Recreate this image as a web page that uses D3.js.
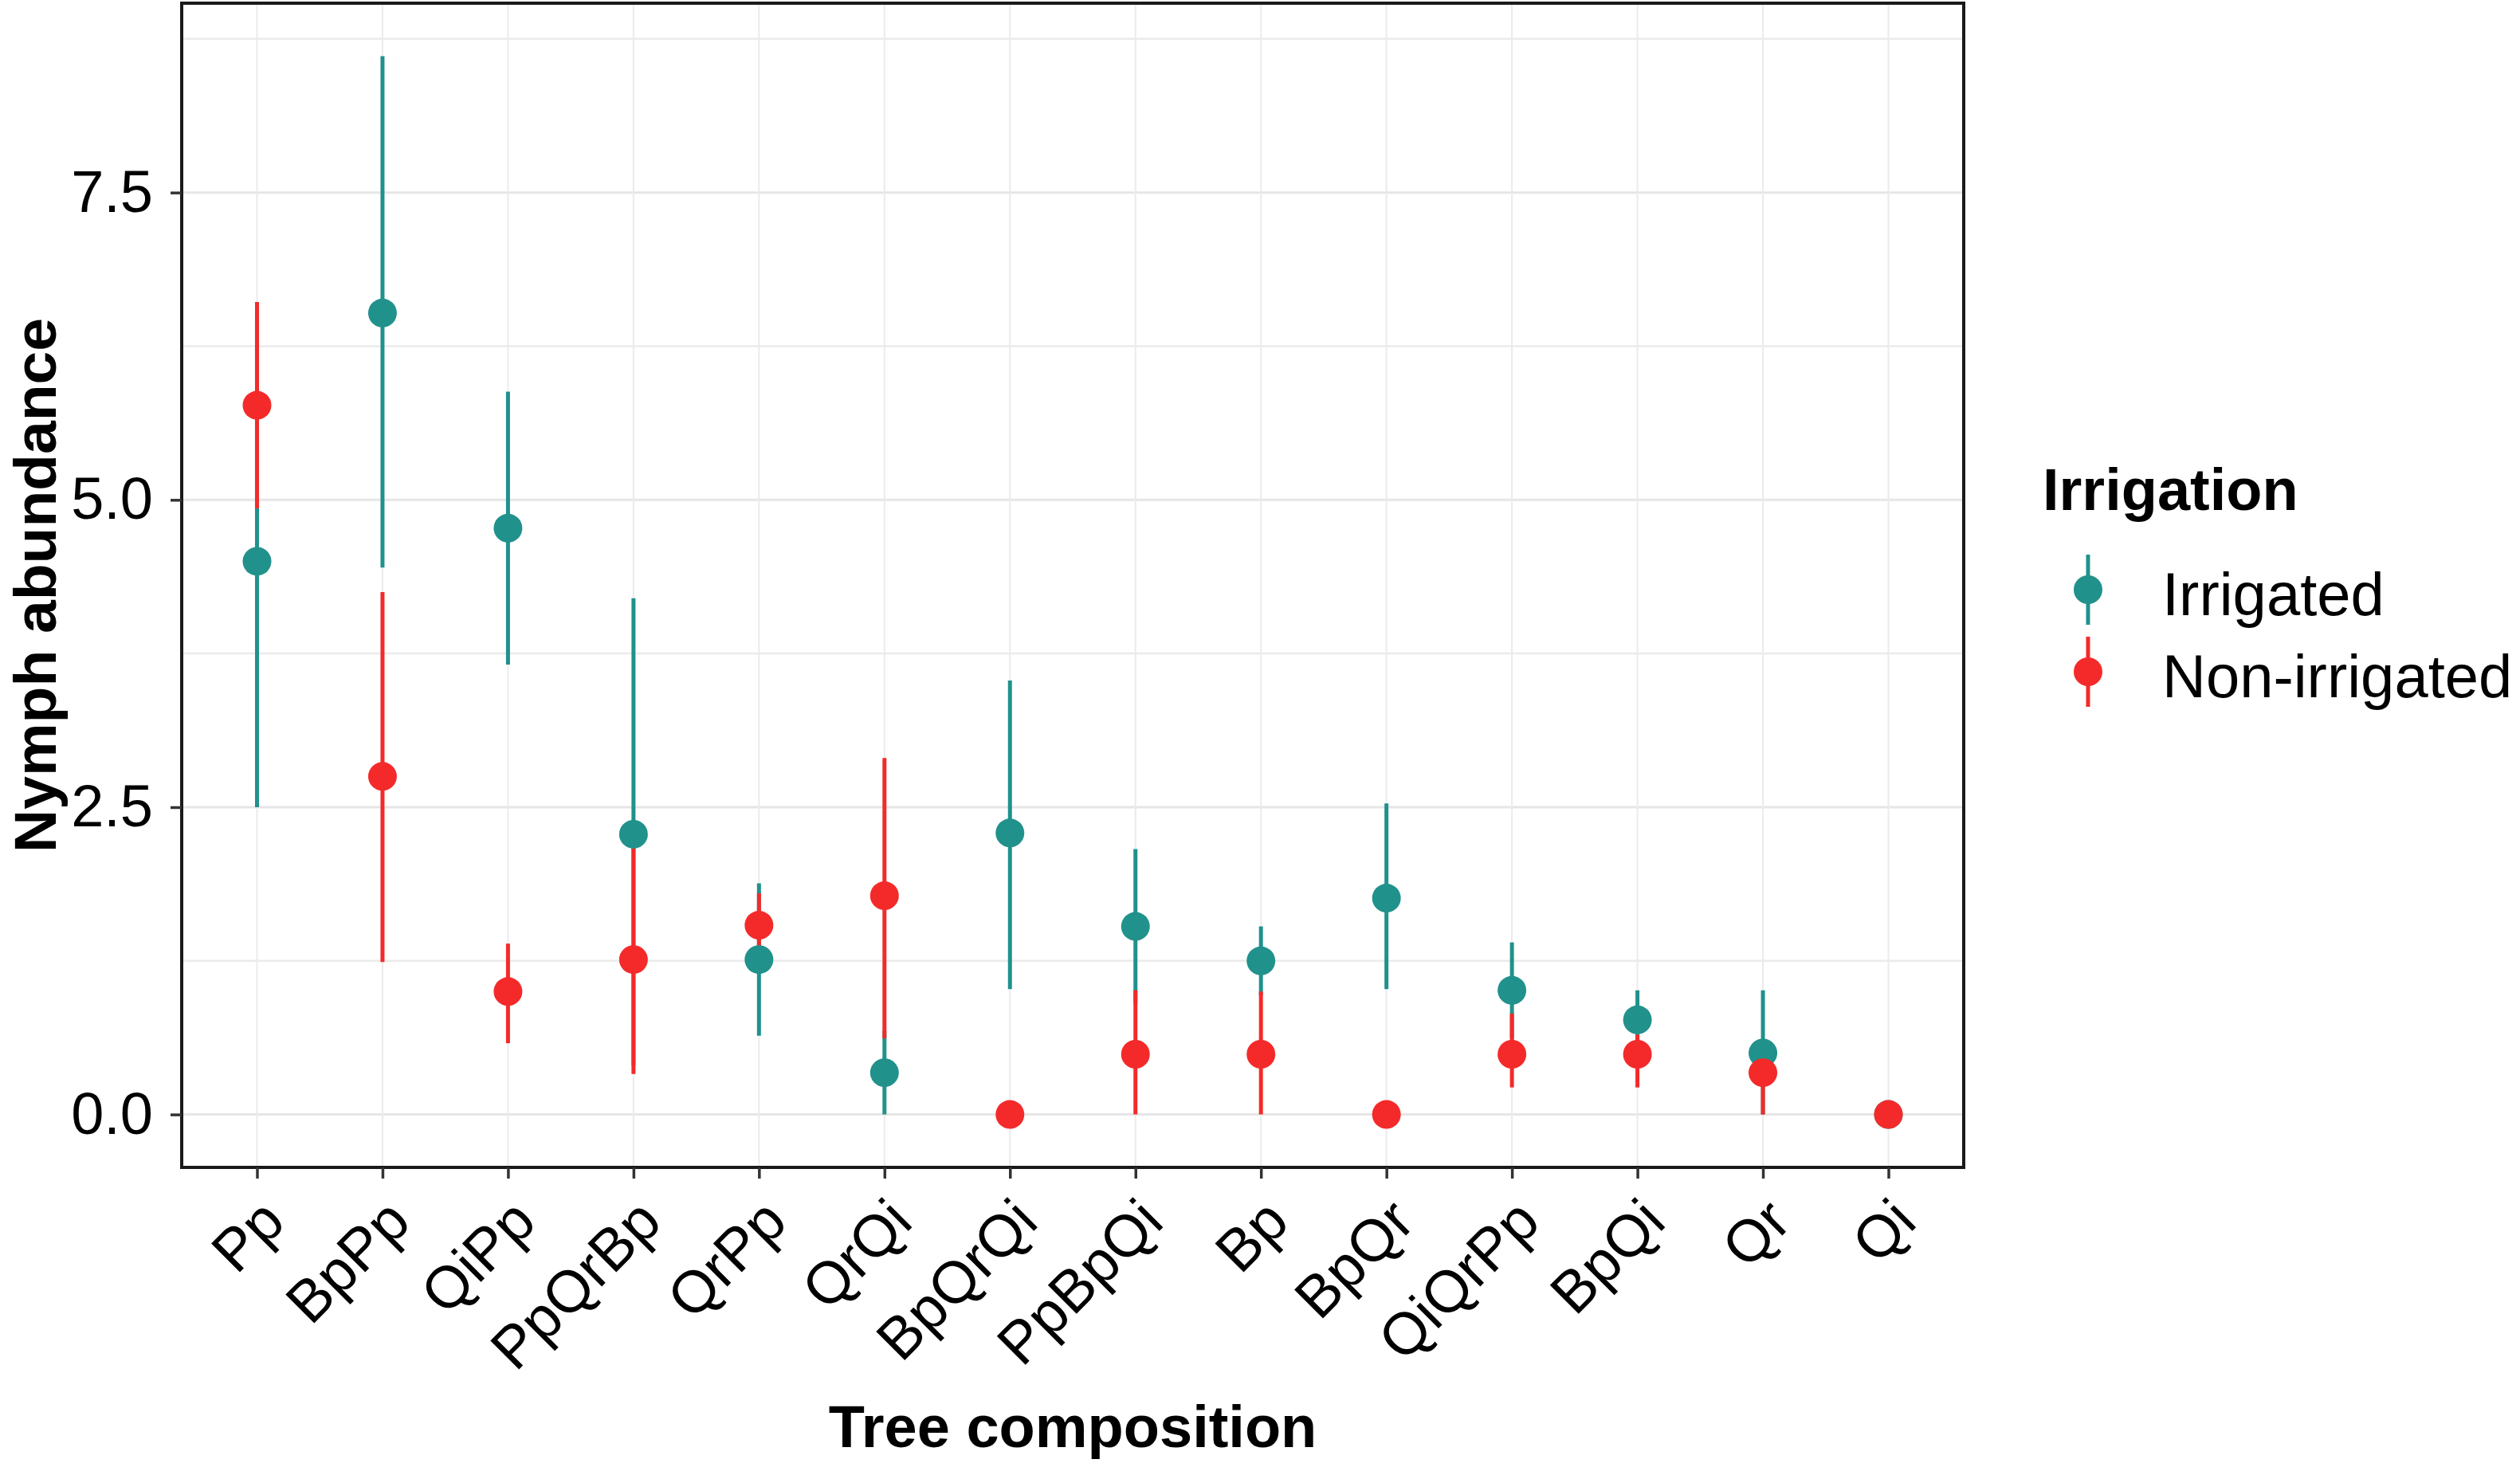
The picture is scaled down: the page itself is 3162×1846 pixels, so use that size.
<!DOCTYPE html>
<html>
<head>
<meta charset="utf-8">
<script src="https://cdn.jsdelivr.net/npm/d3@7"></script>
<style>
  body { margin: 0; background: #ffffff; }
  text { font-family: "Liberation Sans", Arial, sans-serif; }
</style>
</head>
<body>
<div id="container"></div>
<script>
let w = 3162;
let h = 1846;

// tree compositions, in the order of the x axis
let categories = ["Pp", "BpPp", "QiPp", "PpQrBp", "QrPp", "QrQi", "BpQrQi",
                  "PpBpQi", "Bp", "BpQr", "QiQrPp", "BpQi", "Qr", "Qi"];

// irrigated plots: mean and interval
let irrigatedMean = [4.50, 6.52, 4.77, 2.28, 1.26, 0.34, 2.29, 1.53, 1.25, 1.76, 1.01, 0.77, 0.50, 0.00];
let irrigatedLow  = [2.50, 4.45, 3.66, 0.40, 0.64, 0.00, 1.02, 0.90, 0.97, 1.02, 0.62, 0.53, 0.00, 0.00];
let irrigatedHigh = [6.50, 8.61, 5.88, 4.20, 1.88, 0.68, 3.53, 2.16, 1.53, 2.53, 1.40, 1.01, 1.01, 0.00];

// non-irrigated plots
let nonIrrigatedMean = [5.77, 2.75, 1.00, 1.26, 1.54, 1.78, 0.00, 0.49, 0.49, 0.00, 0.49, 0.49, 0.34, 0.00];
let nonIrrigatedLow  = [4.93, 1.24, 0.58, 0.33, 1.32, 0.62, 0.00, 0.00, 0.00, 0.00, 0.22, 0.22, 0.00, 0.00];
let nonIrrigatedHigh = [6.61, 4.25, 1.39, 2.17, 1.80, 2.90, 0.00, 1.01, 1.00, 0.00, 0.82, 0.65, 0.45, 0.00];

let seriesNames = ["Irrigated", "Non-irrigated"];
let seriesColors = ["#21918c", "#f42a2a"];

let yTicks = [0, 2.5, 5, 7.5];
let yMinorTicks = [1.25, 3.75, 6.25, 8.75];

// one row per point
function makeRows(name, mean, low, high){
  return categories.map(function(c, i){
    return {cat: c, series: name, y: mean[i], lo: low[i], hi: high[i]};
  });
}
let rows = makeRows(seriesNames[0], irrigatedMean, irrigatedLow, irrigatedHigh)
  .concat(makeRows(seriesNames[1], nonIrrigatedMean, nonIrrigatedLow, nonIrrigatedHigh));

// panel box
let panel = {left: 228, right: 2464, top: 4, bottom: 1465};

let viz = d3.select("#container")
  .append("svg")
    .attr("width", w)
    .attr("height", h)
    .style("background-color", "#ffffff");

let xScale = d3.scalePoint()
  .domain(categories)
  .range([panel.left, panel.right])
  .padding(0.6);

// ggplot style 5% expansion of the data range
let yMin = d3.min(rows, function(d){ return d.lo; });
let yMax = d3.max(rows, function(d){ return d.hi; });
let pad = (yMax - yMin) * 0.05;
let yScale = d3.scaleLinear()
  .domain([yMin - pad, yMax + pad])
  .range([panel.bottom, panel.top]);

let colorScale = d3.scaleOrdinal().domain(seriesNames).range(seriesColors);

// grid
let grid = viz.append("g").attr("class", "grid");
grid.selectAll(".hminor").data(yMinorTicks).enter()
  .append("line")
    .attr("x1", panel.left).attr("x2", panel.right)
    .attr("y1", function(d){ return yScale(d); })
    .attr("y2", function(d){ return yScale(d); })
    .attr("stroke", "#ebebeb").attr("stroke-width", 2.5);
grid.selectAll(".hmajor").data(yTicks).enter()
  .append("line")
    .attr("x1", panel.left).attr("x2", panel.right)
    .attr("y1", function(d){ return yScale(d); })
    .attr("y2", function(d){ return yScale(d); })
    .attr("stroke", "#e6e6e6").attr("stroke-width", 3);
grid.selectAll(".vmajor").data(categories).enter()
  .append("line")
    .attr("x1", function(d){ return xScale(d); })
    .attr("x2", function(d){ return xScale(d); })
    .attr("y1", panel.top).attr("y2", panel.bottom)
    .attr("stroke", "#ebebeb").attr("stroke-width", 2);

// ranges first, then all the points (like geom_pointrange)
let marks = viz.append("g").attr("class", "marks");
marks.selectAll(".range").data(rows).enter()
  .append("line")
    .attr("class", "range")
    .attr("x1", function(d){ return xScale(d.cat); })
    .attr("x2", function(d){ return xScale(d.cat); })
    .attr("y1", function(d){ return yScale(d.lo); })
    .attr("y2", function(d){ return yScale(d.hi); })
    .attr("stroke", function(d){ return colorScale(d.series); })
    .attr("stroke-width", 5);
marks.selectAll(".pt").data(rows).enter()
  .append("circle")
    .attr("class", "pt")
    .attr("cx", function(d){ return xScale(d.cat); })
    .attr("cy", function(d){ return yScale(d.y); })
    .attr("r", 18)
    .attr("fill", function(d){ return colorScale(d.series); });

// panel border
viz.append("rect")
  .attr("x", panel.left).attr("y", panel.top)
  .attr("width", panel.right - panel.left)
  .attr("height", panel.bottom - panel.top)
  .attr("fill", "none")
  .attr("stroke", "#1a1a1a")
  .attr("stroke-width", 4);

// axes
let yAxis = d3.axisLeft(yScale)
  .tickValues(yTicks)
  .tickFormat(d3.format(".1f"))
  .tickSize(14)
  .tickPadding(22);
let yAxisGroup = viz.append("g").attr("class", "yaxis")
  .attr("transform", "translate(" + panel.left + ",0)")
  .call(yAxis);

let xAxis = d3.axisBottom(xScale).tickSize(14);
let xAxisGroup = viz.append("g").attr("class", "xaxis")
  .attr("transform", "translate(0," + panel.bottom + ")")
  .call(xAxis);
xAxisGroup.selectAll("text")
  .attr("x", 0).attr("y", 0)
  .attr("dy", "0.72em")
  .attr("text-anchor", "end")
  .attr("transform", "translate(0,34) rotate(-45)");

viz.selectAll(".yaxis .domain, .xaxis .domain").remove();
viz.selectAll(".tick line").attr("stroke", "#333333").attr("stroke-width", 3.5);
viz.selectAll(".tick text")
  .attr("fill", "#000000")
  .style("font-size", "74px")
  .style("font-family", "'Liberation Sans', Arial, sans-serif");

// axis titles
viz.append("text")
  .attr("x", (panel.left + panel.right) / 2)
  .attr("y", 1816)
  .attr("text-anchor", "middle")
  .style("font-size", "74px")
  .style("font-weight", "bold")
  .text("Tree composition");

viz.append("text")
  .attr("transform", "translate(70," + ((panel.top + panel.bottom) / 2) + ") rotate(-90)")
  .attr("text-anchor", "middle")
  .style("font-size", "75px")
  .style("font-weight", "bold")
  .text("Nymph abundance");

// legend
let legend = viz.append("g").attr("class", "legend");
legend.append("text")
  .attr("x", 2563).attr("y", 640)
  .style("font-size", "74px")
  .style("font-weight", "bold")
  .text("Irrigation");

let keys = legend.selectAll(".key").data(seriesNames).enter()
  .append("g")
    .attr("class", "key")
    .attr("transform", function(d, i){ return "translate(2620," + (740 + i * 103) + ")"; });
keys.append("line")
  .attr("y1", -44).attr("y2", 44)
  .attr("stroke", function(d){ return colorScale(d); })
  .attr("stroke-width", 5);
keys.append("circle")
  .attr("r", 18)
  .attr("fill", function(d){ return colorScale(d); });
keys.append("text")
  .attr("x", 93).attr("y", 32)
  .style("font-size", "76px")
  .text(function(d){ return d; });
</script>
</body>
</html>
